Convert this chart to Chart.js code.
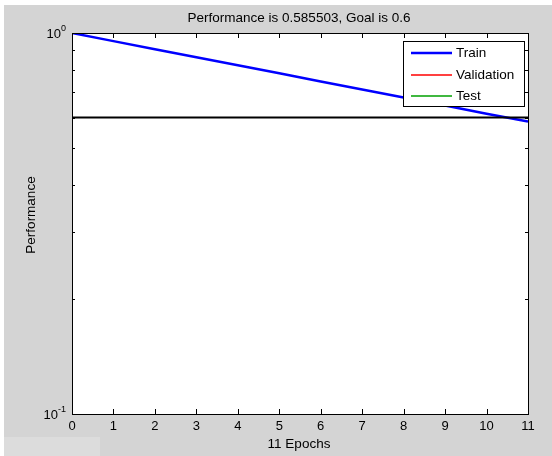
<!DOCTYPE html>
<html>
<head>
<meta charset="utf-8">
<script src="https://cdn.jsdelivr.net/npm/chart.js@4/dist/chart.umd.min.js"></script>
<style>
  html, body { margin: 0; padding: 0; background: #fff; }
  #wrap { width: 552px; height: 456px; }
</style>
</head>
<body>
<div id="wrap"><canvas id="myChart" width="552" height="456"></canvas></div>
<script>
(function () {
  'use strict'

  // Data
  var epochs = [0, 1, 2, 3, 4, 5, 6, 7, 8, 9, 10, 11]
  var trainPerf = [1.0, 0.952, 0.907, 0.864, 0.823, 0.784, 0.746, 0.711, 0.677, 0.645, 0.614, 0.5855]
  var goal = 0.6
  var xTicks = [0, 1, 2, 3, 4, 5, 6, 7, 8, 9, 10, 11]
  var yMajor = [0.1, 1]
  var yMinor = [0.2, 0.3, 0.4, 0.5, 0.6, 0.7, 0.8, 0.9]
  var titleText = 'Performance is 0.585503, Goal is 0.6'
  var xTitle = '11 Epochs'
  var yTitle = 'Performance'

  var FONT = '"Liberation Sans", Arial, sans-serif'

  var matlabFrame = {
    id: 'matlabFrame',
    beforeDraw: function (chart) {
      var c = chart.ctx
      var a = chart.chartArea
      c.save()
      c.fillStyle = '#ffffff'
      c.fillRect(0, 0, chart.width, chart.height)
      c.fillStyle = '#d4d4d4'
      c.fillRect(4, 5, chart.width - 4, chart.height - 5)
      c.fillStyle = '#dcdcdc'
      c.fillRect(4, 437, 96, chart.height - 437)
      c.fillStyle = '#ffffff'
      c.fillRect(a.left, a.top, a.right - a.left, a.bottom - a.top)
      c.restore()
    },
    afterDraw: function (chart) {
      var c = chart.ctx
      var a = chart.chartArea
      var xs = chart.scales.x
      var ys = chart.scales.y
      c.save()
      c.strokeStyle = '#000'
      c.lineWidth = 1
      // inward ticks
      c.beginPath()
      xTicks.forEach(function (t) {
        var px = Math.round(xs.getPixelForValue(t)) + 0.5
        c.moveTo(px, a.bottom); c.lineTo(px, a.bottom - 5)
        c.moveTo(px, a.top); c.lineTo(px, a.top + 5)
      })
      yMinor.forEach(function (t) {
        var py = Math.round(ys.getPixelForValue(t)) + 0.5
        c.moveTo(a.left, py); c.lineTo(a.left + 3, py)
        c.moveTo(a.right, py); c.lineTo(a.right - 3, py)
      })
      c.stroke()
      // frame
      c.strokeRect(Math.round(a.left) + 0.5, Math.round(a.top) + 0.5,
        Math.round(a.right - a.left), Math.round(a.bottom - a.top))

      c.fillStyle = '#000'
      c.font = '13px ' + FONT
      c.textAlign = 'center'
      c.textBaseline = 'top'
      xTicks.forEach(function (t) {
        c.fillText(String(t), xs.getPixelForValue(t), a.bottom + 6)
      })
      // y labels as 10^n
      yMajor.forEach(function (t) {
        var py = ys.getPixelForValue(t)
        var exp = String(Math.round(Math.log10(t)))
        c.font = '9px ' + FONT
        var ew = c.measureText(exp).width
        c.textAlign = 'right'
        c.textBaseline = 'alphabetic'
        c.fillText(exp, a.left - 6, py - 2)
        c.font = '13px ' + FONT
        c.fillText('10', a.left - 6 - ew, py + 5)
      })

      // titles
      c.textAlign = 'center'
      c.textBaseline = 'middle'
      c.font = '13.5px ' + FONT
      c.fillText(titleText, 299, 18)
      c.fillText(xTitle, 299, 444)
      c.save()
      c.translate(31, 215)
      c.rotate(-Math.PI / 2)
      c.fillText(yTitle, 0, 0)
      c.restore()

      // legend box
      var lx = 403, ly = 41, lw = 121, lh = 65
      c.fillStyle = '#fff'
      c.fillRect(lx, ly, lw, lh)
      c.strokeStyle = '#000'
      c.lineWidth = 1
      c.strokeRect(lx + 0.5, ly + 0.5, lw, lh)
      var items = chart.data.datasets.filter(function (d) { return d.inLegend })
      items.forEach(function (d, i) {
        var y = Math.round(ly + 12 + i * 21.5)
        c.strokeStyle = d.borderColor
        c.lineWidth = d.legendWidth
        c.beginPath()
        c.moveTo(411, y); c.lineTo(452, y)
        c.stroke()
        c.fillStyle = '#000'
        c.textAlign = 'left'
        c.textBaseline = 'middle'
        c.font = '13.5px ' + FONT
        c.fillText(d.label, 456, y)
      })
      c.restore()
    }
  }

  var ctx = document.getElementById('myChart')
  var myChart = new Chart(ctx, {
    type: 'line',
    data: {
      labels: epochs,
      datasets: [
        {
          label: 'Goal',
          data: [{ x: epochs[0], y: goal }, { x: epochs[epochs.length - 1], y: goal }],
          borderColor: '#000000',
          borderWidth: 2,
          pointRadius: 0,
          inLegend: false
        },
        {
          label: 'Train',
          data: epochs.map(function (e, i) { return { x: e, y: trainPerf[i] } }),
          borderColor: '#0000ff',
          borderWidth: 2.5,
          pointRadius: 0,
          inLegend: true,
          legendWidth: 2.5
        },
        {
          label: 'Validation',
          data: [],
          borderColor: '#ff0000',
          borderWidth: 1,
          pointRadius: 0,
          inLegend: true,
          legendWidth: 1.5
        },
        {
          label: 'Test',
          data: [],
          borderColor: '#00a000',
          borderWidth: 1,
          pointRadius: 0,
          inLegend: true,
          legendWidth: 1.5
        }
      ]
    },
    options: {
      responsive: false,
      animation: false,
      layout: { padding: { left: 72, top: 33, right: 24, bottom: 42 } },
      plugins: { legend: { display: false }, tooltip: { enabled: false } },
      scales: {
        x: { type: 'linear', min: 0, max: 11, display: false },
        y: { type: 'logarithmic', min: 0.1, max: 1, display: false }
      }
    },
    plugins: [matlabFrame]
  })
})()
</script>
</body>
</html>
